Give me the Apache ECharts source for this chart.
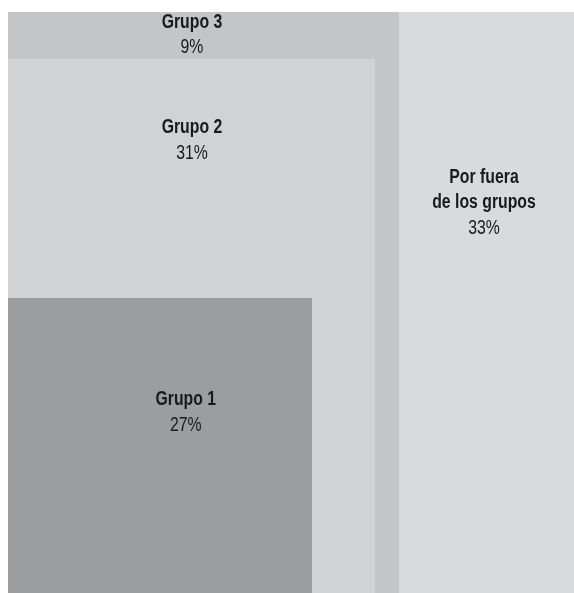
<!DOCTYPE html>
<html>
<head>
<meta charset="utf-8">
<script src="https://cdn.jsdelivr.net/npm/echarts@6/dist/echarts.min.js"></script>
<style>
html,body{margin:0;padding:0;background:#ffffff;}
#chart{width:574px;height:593px;}
</style>
</head>
<body>
<div id="chart"></div>
<script>
// Categories (drawing order: back to front)
var categories = ['Por fuera\nde los grupos', 'Grupo 3', 'Grupo 2', 'Grupo 1'];
// Share of each group (%)
var shares = [33, 9, 31, 27];
// Rectangle extents in a 0–100 unit space (x from left, y from top)
var xStart = [69.08, 0, 0, 0];
var xEnd   = [100, 69.08, 64.84, 53.71];
var yStart = [0, 0, 8.09, 49.23];
var yEnd   = [100, 100, 100, 100];

// Styling / label placement (not data)
var fills = ['#d9dadc', '#c4c5c7', '#d1d2d4', '#9c9d9f'];
var labelX = [84.1, 32.5, 32.5, 31.4];
var labelY = [32.9, 4.04, 22.2, 69.0];

var seriesData = categories.map(function (c, i) {
  return [xStart[i], yStart[i], xEnd[i], yEnd[i], labelX[i], labelY[i], i];
});

var FONT = '"Liberation Sans", Arial, sans-serif';

var chart = echarts.init(document.getElementById('chart'), null, {renderer: 'canvas'});
chart.setOption({
  backgroundColor: '#ffffff',
  animation: false,
  grid: {left: 8, right: 0, top: 12, bottom: 0},
  xAxis: {type: 'value', min: 0, max: 100, show: false},
  yAxis: {type: 'value', min: 0, max: 100, inverse: true, show: false},
  series: [{
    type: 'custom',
    silent: true,
    data: seriesData,
    encode: {x: [0, 2, 4], y: [1, 3, 5]},
    renderItem: function (params, api) {
      var i = api.value(6);
      var p0 = api.coord([api.value(0), api.value(1)]);
      var p1 = api.coord([api.value(2), api.value(3)]);
      var pl = api.coord([api.value(4), api.value(5)]);
      var names = categories[i].split('\n').map(function (s) { return '{n|' + s + '}'; }).join('\n');
      return {
        type: 'group',
        children: [{
          type: 'rect',
          shape: {x: p0[0], y: p0[1], width: p1[0] - p0[0], height: p1[1] - p0[1]},
          style: {fill: fills[i]}
        }, {
          type: 'text',
          z2: 10,
          x: pl[0], y: pl[1],
          scaleX: 0.79, scaleY: 1,
          style: {
            x: 0, y: 0,
            text: names + '\n{p|' + shares[i] + '%}',
            align: 'center',
            verticalAlign: 'middle',
            rich: {
              n: {fontFamily: FONT, fontWeight: 'bold', fontSize: 20, lineHeight: 25, fill: '#1a1a1a', align: 'center'},
              p: {fontFamily: FONT, fontWeight: 'normal', fontSize: 20, lineHeight: 26, fill: '#1a1a1a', align: 'center'}
            }
          }
        }]
      };
    }
  }]
});
</script>
</body>
</html>
